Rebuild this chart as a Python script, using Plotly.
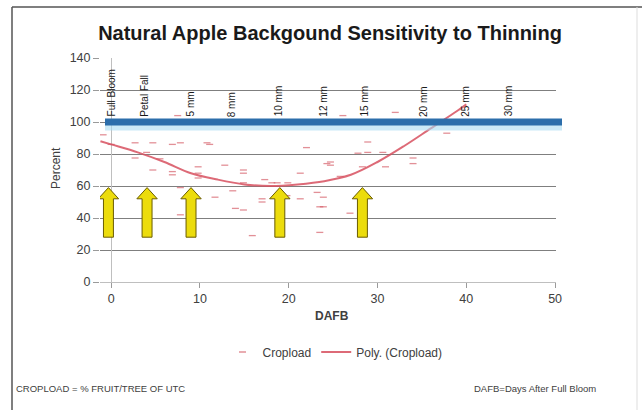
import plotly.graph_objects as go

# ---------------- data ----------------
dafb = [0, 2.7, 4.7, 6.9, 7.8, 10.8, 2.7, 4.7, 6.9, 6.9, 9.8, 9.8, 9.8, 7.8, 7.8, 4.0, 5.5,
        12.8, 14.9, 14.9, 21.3, 11.7, 14.0, 14.9, 17.0, 17.0, 15.9, 22.0, 24.3, 23.5, 23.5,
        21.3, 19.8, 18.7, 13.7, 14.9, 17.3, 18.1, 23.2, 19.9, 11.1,
        28.9, 28.9, 27.8, 30.6, 30.9, 34.0, 34.0, 24.7, 24.7, 28.3, 37.8, 23.9, 23.9, 26.9, 25.8,
        7.5, 26.1, 32.0, -0.9]
cropload = [86, 87, 87, 86, 87, 87, 77.5, 70, 69, 67, 72, 68, 65, 59, 42, 81, 77,
            73, 70, 68, 68, 53, 46, 45, 52, 50, 29, 84, 74, 47, 31,
            52, 54, 62, 57, 62, 64, 62, 56, 62, 86,
            87.5, 81, 80.5, 81, 72, 77.5, 74, 75, 73, 72, 93, 53, 47, 43, 66,
            104, 104, 106, 92]

trend_x = [-1.2, 0, 3, 6, 9, 12, 15, 18, 21, 24, 27, 30, 33, 36, 39, 40]
trend_y = [88, 86, 81, 75, 68, 64, 61, 60, 61, 63, 67, 75, 85, 96, 107, 111]

stage_labels = ["Full Bloom", "Petal Fall", "5 mm", "8 mm", "10 mm", "12 mm",
                "15 mm", "20 mm", "25 mm", "30 mm"]
stage_x = [0, 3.8, 8.9, 13.5, 18.8, 23.9, 28.5, 35.2, 39.9, 44.7]

arrow_x = [-0.3, 4.05, 9.0, 19.0, 28.3]
arrow_base = 28
arrow_tip = 59

reference_level = 100
x_ticks = [0, 10, 20, 30, 40, 50]
y_ticks = [0, 20, 40, 60, 80, 100, 120, 140]

# ---------------- layout geometry ----------------
W, H = 642, 410
ML, MR, MT, MB = 100, 86, 58, 128
PW, PH = W - ML - MR, H - MT - MB
XR = [-1.25, 50.1]
YR = [0, 140]


def px(x):
    return (x - ML) / PW


def py(y):
    return (H - MB - y) / PH


FONT = "Liberation Sans"
TXT = "#404040"

fig = go.Figure()

fig.add_trace(go.Scatter(
    x=dafb, y=cropload, mode="markers", name="Cropload",
    marker=dict(symbol="line-ew", size=5,
                line=dict(width=1.3, color="rgba(210,85,95,0.65)")),
))
fig.add_trace(go.Scatter(
    x=trend_x, y=trend_y, mode="lines", name="Poly. (Cropload)",
    line=dict(color="rgba(215,80,95,0.85)", width=2, shape="spline"),
))

shapes = []
# blue reference band at 100 (extends slightly outside plot area)
yb = reference_level / YR[1]
shapes.append(dict(type="line", xref="paper", yref="paper", x0=px(105), x1=px(562),
                   y0=yb - 3 / PH, y1=yb - 3 / PH,
                   line=dict(color="rgba(170,220,242,0.6)", width=11), layer="above"))
shapes.append(dict(type="line", xref="paper", yref="paper", x0=px(105), x1=px(562),
                   y0=yb, y1=yb, line=dict(color="#2c6eab", width=7), layer="above"))

# yellow block arrows
bw, hw, sh = 0.56, 1.15, 52
for cx in arrow_x:
    path = (f"M {cx-bw},{arrow_base} L {cx-bw},{sh} L {cx-hw},{sh} L {cx},{arrow_tip} "
            f"L {cx+hw},{sh} L {cx+bw},{sh} L {cx+bw},{arrow_base} Z")
    shapes.append(dict(type="path", xref="x", yref="y", path=path,
                       fillcolor="#ecdc0c", line=dict(color="#6a5c00", width=1),
                       layer="above"))

# chart border
shapes.append(dict(type="line", xref="paper", yref="paper", x0=px(12), x1=px(12),
                   y0=py(7), y1=py(415), line=dict(color="#555555", width=1.5)))
shapes.append(dict(type="line", xref="paper", yref="paper", x0=px(12), x1=px(645),
                   y0=py(7), y1=py(7), line=dict(color="#555555", width=1.5)))
shapes.append(dict(type="line", xref="paper", yref="paper", x0=px(637), x1=px(637),
                   y0=py(7), y1=py(415), line=dict(color="#dddddd", width=1)))

annotations = []
for lab, sx in zip(stage_labels, stage_x):
    annotations.append(dict(x=sx, y=102, xref="x", yref="y", text=lab, textangle=-90,
                            showarrow=False, xanchor="center", yanchor="bottom",
                            font=dict(family=FONT, size=10, color="#1a1a1a")))

annotations.append(dict(x=px(332), y=py(325), xref="paper", yref="paper", text="<b>DAFB</b>",
                        showarrow=False, font=dict(family=FONT, size=12, color=TXT)))
annotations.append(dict(x=px(47), y=py(168), xref="paper", yref="paper", text="Percent",
                        textangle=-90, showarrow=False,
                        font=dict(family=FONT, size=12, color=TXT)))
annotations.append(dict(x=px(14), y=py(396), xref="paper", yref="paper",
                        text="CROPLOAD = % FRUIT/TREE OF UTC", showarrow=False,
                        xanchor="left", font=dict(family=FONT, size=9.5, color=TXT)))
annotations.append(dict(x=px(598), y=py(396), xref="paper", yref="paper",
                        text="DAFB=Days After Full Bloom", showarrow=False,
                        xanchor="right", font=dict(family=FONT, size=9.5, color=TXT)))

fig.update_layout(
    width=W, height=H,
    margin=dict(l=ML, r=MR, t=MT, b=MB, autoexpand=False),
    paper_bgcolor="white", plot_bgcolor="white",
    font=dict(family=FONT, color=TXT),
    title=dict(text="<b>Natural Apple Backgound Sensitivity to Thinning</b>",
               x=px(330), xref="paper", xanchor="center",
               y=1 - 33 / H, yanchor="middle",
               font=dict(family=FONT, size=20, color="#1a1a1a")),
    xaxis=dict(range=XR, tickvals=x_ticks, showgrid=False, automargin=False,
               zeroline=True, zerolinecolor="#bfbfbf", zerolinewidth=1,
               showline=True, linecolor="#bfbfbf", ticks="outside", ticklen=5,
               tickcolor="#9a9a9a", tickfont=dict(size=12.5, color=TXT)),
    yaxis=dict(range=YR, tickvals=y_ticks, showgrid=True, gridcolor="#7f7f7f", gridwidth=1,
               zeroline=False, showline=False, ticks="outside", ticklen=6, automargin=False,
               tickcolor="#9a9a9a", tickfont=dict(size=12.5, color=TXT)),
    legend=dict(orientation="h", x=px(335), y=py(352), xanchor="center", yanchor="middle",
                font=dict(family=FONT, size=12, color=TXT), bgcolor="rgba(0,0,0,0)"),
    shapes=shapes,
    annotations=annotations,
)

fig.write_html("out.html", config={"displayModeBar": False},
               post_script="document.body.style.margin='0';")
